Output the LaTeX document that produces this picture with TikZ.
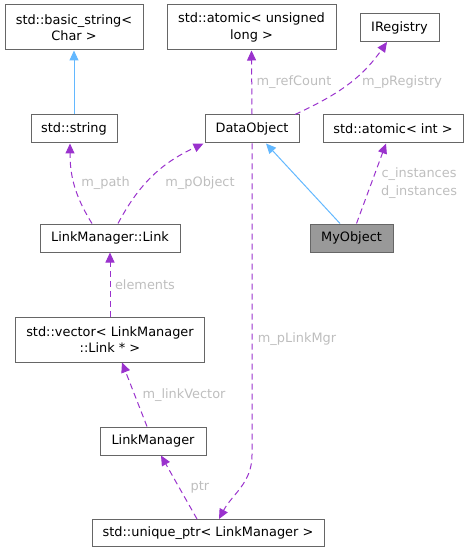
\documentclass[tikz,border=0pt]{standalone}
\usepackage{fontspec}
\setmainfont{DejaVu Sans}
\usetikzlibrary{arrows.meta}
\definecolor{boxborder}{HTML}{666666}
\definecolor{usecol}{HTML}{9A32CD}
\definecolor{inhcol}{HTML}{63B8FF}
\definecolor{lblcol}{HTML}{BEBEBE}
\definecolor{selfill}{HTML}{999999}
\tikzset{
  cls/.style={draw=boxborder, line width=1pt, fill=white, inner sep=0pt, align=center,
    font=\fontsize{12.9}{16.5}\selectfont},
  usage/.style={draw=usecol, line width=1pt, dash pattern=on 6pt off 4pt,
    -{Triangle[length=10pt,width=9pt]}},
  inherit/.style={draw=inhcol, line width=1pt, -{Triangle[length=10pt,width=9pt]}},
  lbl/.style={text=lblcol, inner sep=0pt, align=center, font=\fontsize{12.9}{17.5}\selectfont}
}
\begin{document}
\begin{tikzpicture}[x=1pt,y=1pt]
\useasboundingbox (0,0) rectangle (469,-553);
% classes
\node[cls, minimum width=138pt, minimum height=45pt] (bs) at (74,-27.5) {std::basic\_string<\\Char >};
\node[cls, minimum width=169pt, minimum height=45pt] (aul) at (251.5,-27.5) {std::atomic< unsigned\\long >};
\node[cls, minimum width=79pt, minimum height=28pt] (ireg) at (399.5,-27.5) {IRegistry};
\node[cls, minimum width=86pt, minimum height=28pt] (str) at (74,-129) {std::string};
\node[cls, minimum width=94pt, minimum height=28pt] (dobj) at (252,-129) {DataObject};
\node[cls, minimum width=140pt, minimum height=28pt] (aint) at (393,-129) {std::atomic< int >};
\node[cls, minimum width=140pt, minimum height=28pt] (link) at (110,-238) {LinkManager::Link};
\node[cls, fill=selfill, minimum width=83pt, minimum height=28pt] (myobj) at (351.5,-238) {MyObject};
\node[cls, minimum width=189pt, minimum height=45pt] (vec) at (110,-339.5) {std::vector< LinkManager\\::Link * >};
\node[cls, minimum width=106pt, minimum height=28pt] (lm) at (153,-441) {LinkManager};
\node[cls, minimum width=232pt, minimum height=27pt] (uptr) at (208,-533) {std::unique\_ptr< LinkManager >};
% inheritance
\draw[inherit] (str.north) -- (bs.south);
\draw[inherit] ([xshift=-11.5pt]myobj.north) -- ([xshift=14pt]dobj.south);
% usage
\draw[usage] (dobj.north) -- (aul.south);
\draw[usage] ([xshift=43pt]dobj.north) to[out=25,in=235] ([xshift=-12.5pt]ireg.south);
\draw[usage] ([xshift=-18pt]link.north) to[out=122,in=-90] ([xshift=-4pt]str.south);
\draw[usage] ([xshift=8pt]link.north) to[out=62,in=205] ([xshift=-1pt]dobj.south west);
\draw[usage] ([xshift=5pt]myobj.north) -- ([xshift=-7pt]aint.south);
\draw[usage] (vec.north) -- (link.south);
\draw[usage] ([xshift=-6pt]lm.north) -- ([xshift=12pt]vec.south);
\coordinate (pbend) at (252,-455);
\draw[usage] (dobj.south) -- (pbend) to[out=-90,in=62] ([xshift=11pt]uptr.north);
\draw[usage] ([xshift=-11pt]uptr.north) -- ([xshift=8pt]lm.south);
% labels
\node[lbl] (lrc) at (294,-82) {m\_refCount};
\node[lbl] (lreg) at (402,-82) {m\_pRegistry};
\node[lbl] (lpath) at (105.5,-183) {m\_path};
\node[lbl] (lpobj) at (200,-183) {m\_pObject};
\node[lbl] (linst) at (419,-183) {c\_instances\\d\_instances};
\node[lbl] (lel) at (145,-285) {elements};
\node[lbl] (llv) at (184,-395) {m\_linkVector};
\node[lbl] (llm) at (297,-339) {m\_pLinkMgr};
\node[lbl] (lptr) at (200,-487) {ptr};
\end{tikzpicture}
\end{document}
